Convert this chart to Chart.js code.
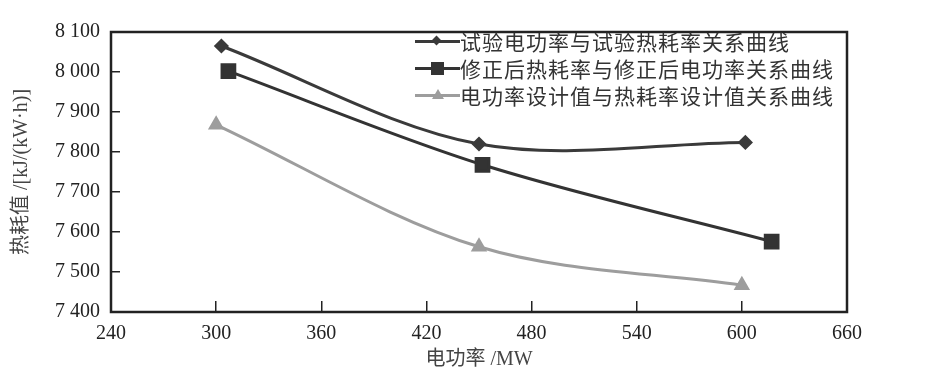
<!DOCTYPE html>
<html>
<head>
<meta charset="utf-8">
<script src="https://cdn.jsdelivr.net/npm/chart.js@4.4.1/dist/chart.umd.min.js"></script>
<style>
    body { margin: 0; background: #fff; }
    .wrap { position: relative; width: 931px; height: 379px; }
    .legend { position: absolute; left: 415px; top: 28px; font-family: "Noto Sans CJK SC", sans-serif; font-size: 21px; letter-spacing: 1px; color: #333; }
    .legend-item { position: relative; height: 27px; line-height: 27px; padding-left: 45px; white-space: nowrap; }
    .legend-line { position: absolute; left: 0; top: 12px; width: 45px; height: 3px; }
    .legend-mark { position: absolute; }
</style>
</head>
<body>
<div class="wrap">
    <canvas id="heatRateChart" width="931" height="379"></canvas>
    <div class="legend" id="legend"></div>
</div>
<script>
// 数据
const testPower = [303, 450, 602];
const testHeatRate = [8065, 7820, 7824];
const corrPower = [307, 452, 617];
const corrHeatRate = [8002, 7768, 7576];
const designPower = [300, 450, 600];
const designHeatRate = [7868, 7563, 7467];

const seriesNames = [
    '试验电功率与试验热耗率关系曲线',
    '修正后热耗率与修正后电功率关系曲线',
    '电功率设计值与热耗率设计值关系曲线'
];
const xTicks = [240, 300, 360, 420, 480, 540, 600, 660];
const yTicks = [7400, 7500, 7600, 7700, 7800, 7900, 8000, 8100];

const serifFont = '"Liberation Serif", "Noto Sans CJK SC", serif';

function toPoints(xs, ys) {
    return xs.map((x, i) => ({ x: x, y: ys[i] }));
}

// 画外框
const boxPlugin = {
    id: 'plotBox',
    afterDraw(chart) {
        const a = chart.chartArea;
        const ctx = chart.ctx;
        ctx.save();
        ctx.strokeStyle = '#222';
        ctx.lineWidth = 2.5;
        ctx.strokeRect(a.left, a.top, a.right - a.left, a.bottom - a.top);
        ctx.restore();
    }
};

const ctx = document.getElementById('heatRateChart').getContext('2d');
const chart = new Chart(ctx, {
    type: 'line',
    data: {
        datasets: [{
            label: seriesNames[0],
            data: toPoints(testPower, testHeatRate),
            borderColor: '#3a3a3a',
            backgroundColor: '#3a3a3a',
            borderWidth: 3,
            pointStyle: 'rectRot',
            pointRadius: 5.5,
            tension: 0.33
        }, {
            label: seriesNames[1],
            data: toPoints(corrPower, corrHeatRate),
            borderColor: '#333',
            backgroundColor: '#333',
            borderWidth: 3,
            pointStyle: 'rect',
            pointRadius: 9,
            tension: 0.33
        }, {
            label: seriesNames[2],
            data: toPoints(designPower, designHeatRate),
            borderColor: '#9d9d9d',
            backgroundColor: '#9d9d9d',
            borderWidth: 3,
            pointStyle: 'triangle',
            pointRadius: 6.5,
            tension: 0.33
        }]
    },
    options: {
        responsive: false,
        animation: false,
        layout: {
            padding: { top: 25, right: 84, left: 0, bottom: 0 }
        },
        plugins: {
            legend: { display: false },
            tooltip: { enabled: false }
        },
        scales: {
            x: {
                type: 'linear',
                min: 240,
                max: 660,
                afterBuildTicks: (scale) => { scale.ticks = xTicks.map(v => ({ value: v })); },
                afterFit: (scale) => { scale.height = 67; },
                border: { display: false },
                grid: {
                    drawOnChartArea: false,
                    drawTicks: true,
                    tickLength: -11,
                    color: '#222',
                    lineWidth: 1.5
                },
                ticks: {
                    padding: 21,
                    color: '#222',
                    font: { family: serifFont, size: 20 },
                    maxRotation: 0
                },
                title: {
                    display: true,
                    text: '电功率 /MW',
                    color: '#444',
                    padding: { top: 0, bottom: 7 },
                    font: { family: serifFont, size: 20 }
                }
            },
            y: {
                min: 7400,
                max: 8100,
                afterBuildTicks: (scale) => { scale.ticks = yTicks.map(v => ({ value: v })); },
                afterFit: (scale) => { scale.width = 111; },
                border: { display: false },
                grid: {
                    drawOnChartArea: false,
                    drawTicks: true,
                    tickLength: -9,
                    color: '#222',
                    lineWidth: 1.5
                },
                ticks: {
                    padding: 20,
                    color: '#222',
                    font: { family: serifFont, size: 20 },
                    callback: (v) => String(v).replace(/(\d)(\d{3})$/, '$1 $2')
                },
                title: {
                    display: true,
                    text: '热耗值 /[kJ/(kW·h)]',
                    color: '#444',
                    padding: { top: 10, bottom: 0 },
                    font: { family: serifFont, size: 20 }
                }
            }
        }
    },
    plugins: [boxPlugin]
});

// 图例（放在绘图区右上角）
function buildLegend() {
    const legend = document.getElementById('legend');
    legend.innerHTML = chart.data.datasets.map(ds => {
        const c = ds.borderColor;
        let mark;
        if (ds.pointStyle === 'rectRot') {
            mark = `<span class="legend-mark" style="left:18px;top:9px;width:7px;height:7px;background:${c};transform:rotate(45deg);"></span>`;
        } else if (ds.pointStyle === 'rect') {
            mark = `<span class="legend-mark" style="left:16px;top:7px;width:13px;height:13px;background:${c};"></span>`;
        } else {
            mark = `<span class="legend-mark" style="left:17px;top:7px;width:0;height:0;border-left:6px solid transparent;border-right:6px solid transparent;border-bottom:10px solid ${c};"></span>`;
        }
        return `<div class="legend-item"><span class="legend-line" style="background:${c};"></span>${mark}${ds.label}</div>`;
    }).join('');
}
buildLegend();
</script>
</body>
</html>
